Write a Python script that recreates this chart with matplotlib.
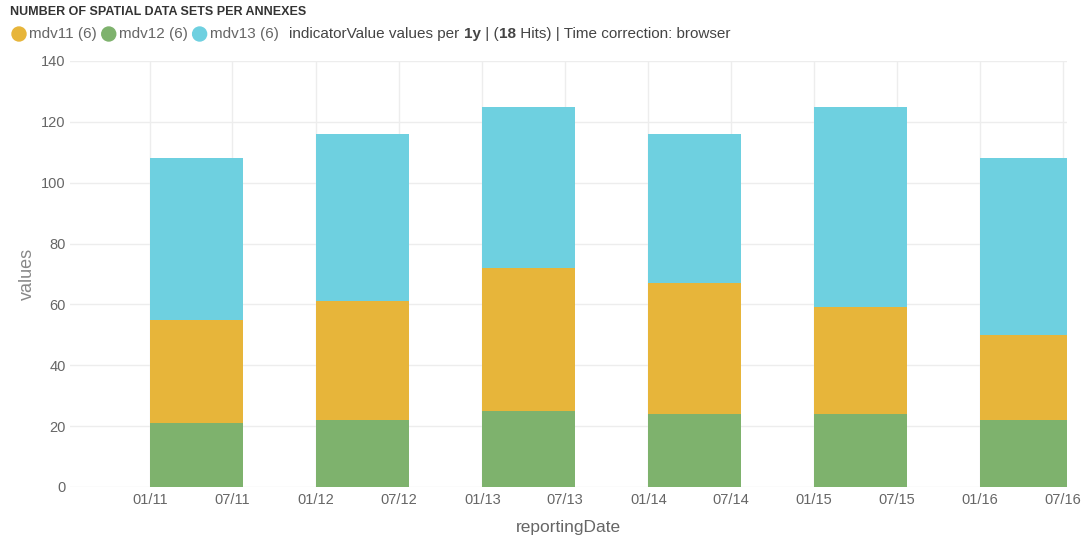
import matplotlib
matplotlib.use('Agg')
import matplotlib.pyplot as plt
import matplotlib.dates as mdates
from matplotlib.patches import Ellipse
from datetime import datetime

# data
years = [2011, 2012, 2013, 2014, 2015, 2016]
mdv12 = [21, 22, 25, 24, 24, 22]
mdv11 = [34, 39, 47, 43, 35, 28]
mdv13 = [53, 55, 53, 49, 66, 58]
series_names = ['mdv11 (6)', 'mdv12 (6)', 'mdv13 (6)']
yticks = [0, 20, 40, 60, 80, 100, 120, 140]

c_yellow = '#E7B53A'
c_green = '#7EB26D'
c_cyan = '#6ED0E0'
grey = '#666666'

plt.rcParams['font.family'] = ['Liberation Sans', 'DejaVu Sans']

fig = plt.figure(figsize=(10.87, 5.39), dpi=100)
ax = fig.add_axes([70 / 1087, 52 / 539, 997 / 1087, 426 / 539])

dates = [datetime(y, 1, 1) for y in years]
x = mdates.date2num(dates)
width = 204  # days

bottom2 = [a + b for a, b in zip(mdv12, mdv11)]
ax.bar(x, mdv12, width=width, align='edge', color=c_green, zorder=2)
ax.bar(x, mdv11, width=width, bottom=mdv12, align='edge', color=c_yellow, zorder=2)
ax.bar(x, mdv13, width=width, bottom=bottom2, align='edge', color=c_cyan, zorder=2)

ax.set_ylim(0, 140)
ax.set_yticks(yticks)
ax.set_xlim(mdates.date2num(datetime(2010, 7, 9)), mdates.date2num(datetime(2016, 7, 10)))
ax.xaxis.set_major_locator(mdates.MonthLocator(bymonth=[1, 7]))
ax.xaxis.set_major_formatter(mdates.DateFormatter('%m/%y'))

ax.grid(True, color='#EDEDED', linewidth=1, zorder=0)
for s in ax.spines.values():
    s.set_visible(False)
ax.tick_params(length=0, labelsize=10.5, labelcolor=grey)
ax.tick_params(axis='y', pad=3)
ax.tick_params(axis='x', pad=4)
ax.set_ylabel('values', fontsize=13, color='#888888', labelpad=4)
ax.set_xlabel('reportingDate', fontsize=12.5, color=grey, labelpad=10)

# title and legend line
fig.text(10 / 1087, 1 - 12 / 539, 'NUMBER OF SPATIAL DATA SETS PER ANNEXES', fontsize=9,
         fontweight='bold', color='#333333', va='center', ha='left')

renderer = fig.canvas.get_renderer()
ly = 1 - 34 / 539
xpos = 12 / 1087
for name, col in zip(series_names, [c_yellow, c_green, c_cyan]):
    fig.patches.append(Ellipse((xpos + 7 / 1087, ly), 14 / 1087, 14 / 539,
                               transform=fig.transFigure, color=col))
    xpos += 17 / 1087
    t = fig.text(xpos, ly, name, fontsize=11, color=grey, va='center', ha='left')
    bb = t.get_window_extent(renderer)
    xpos = bb.x1 / fig.bbox.width + 5 / 1087

xpos += 6 / 1087
parts = [('indicatorValue values per ', 'normal'), ('1y', 'bold'), (' | (', 'normal'),
         ('18', 'bold'), (' Hits) | Time correction: browser', 'normal')]
for txt, w in parts:
    t = fig.text(xpos, ly, txt, fontsize=11, color='#444444', fontweight=w,
                 va='center', ha='left')
    bb = t.get_window_extent(renderer)
    xpos = bb.x1 / fig.bbox.width

fig.savefig('out.png', dpi=100)
